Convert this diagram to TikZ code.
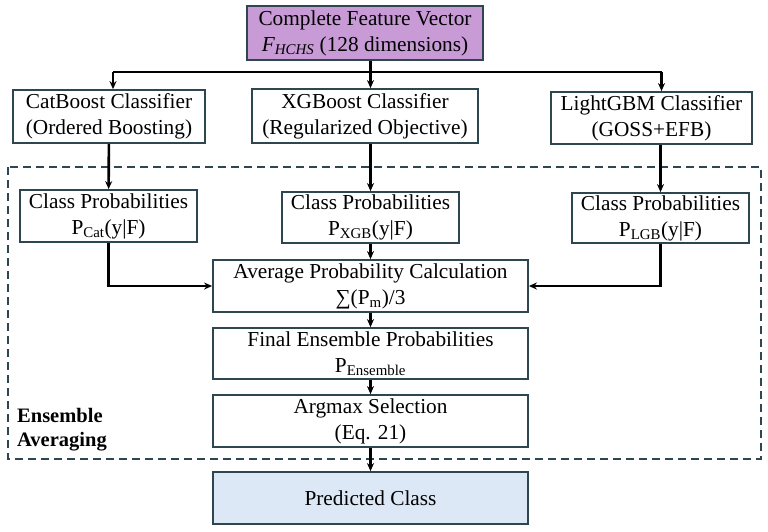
\documentclass[tikz,border=0pt]{standalone}
\usepackage{fontspec}
\setmainfont{Liberation Serif}
\usetikzlibrary{arrows.meta}
\definecolor{boxline}{RGB}{45,70,80}
\definecolor{featfill}{RGB}{200,155,215}
\definecolor{predfill}{RGB}{220,232,245}
\begin{document}
\begin{tikzpicture}[x=1pt, y=-1pt,
  box/.style={draw=boxline, line width=1.8pt, rectangle, align=center, inner sep=1pt,
    font=\fontsize{21.3}{26}\selectfont},
  flow/.style={line width=2.6pt, -{Stealth[length=8pt,width=7pt]}}]
\useasboundingbox (0,0) rectangle (768,531);

% input
\node[box, fill=featfill, minimum width=236, minimum height=54] (feat) at (365,33)
  {Complete Feature Vector\\\textit{F}\textsubscript{\textit{HCHS}} (128 dimensions)};

% classifiers
\node[box, minimum width=192, minimum height=53] (cat) at (109,116.5) {CatBoost Classifier\\(Ordered Boosting)};
\node[box, minimum width=226, minimum height=54] (xgb) at (365,116) {XGBoost Classifier\\(Regularized Objective)};
\node[box, minimum width=201, minimum height=52] (lgb) at (651.5,118) {LightGBM Classifier\\(GOSS+EFB)};

% ensemble region
\draw[dashed, dash pattern=on 8pt off 5pt, line width=1.8pt, draw=boxline] (8,167) rectangle (761,459);
\node[align=left, anchor=north west, inner sep=0pt, font=\fontsize{20.5}{24}\selectfont\bfseries] (ens) at (17,408) {Ensemble\\Averaging};

% class probabilities
\node[box, minimum width=177, minimum height=52] (pcat) at (108.5,216) {Class Probabilities\\P\textsubscript{Cat}(y|F)};
\node[box, minimum width=177, minimum height=51] (pxgb) at (370.5,217.5) {Class Probabilities\\P\textsubscript{XGB}(y|F)};
\node[box, minimum width=177, minimum height=50] (plgb) at (660.5,218) {Class Probabilities\\P\textsubscript{LGB}(y|F)};

% averaging chain
\node[box, minimum width=315, minimum height=52] (avg) at (370.5,286) {Average Probability Calculation\\∑(P\textsubscript{m})/3};
\node[box, minimum width=315, minimum height=51] (fin) at (370.5,353.5) {Final Ensemble Probabilities\\P\textsubscript{Ensemble}};
\node[box, minimum width=315, minimum height=52] (arg) at (370.5,421) {Argmax Selection\\(Eq. 21)};
\node[box, fill=predfill, minimum width=315, minimum height=52] (pred) at (370.5,498) {Predicted Class};

\coordinate (split) at (370.5,72);
\draw[line width=2.6pt] (split -| cat.north) ++(4,0) -- (split -| lgb.north) -- ++(10,0);
\draw[flow] (feat.south -| avg.north) -- (xgb.north -| avg.north);
\draw[flow] ([xshift=4pt]split -| cat.north) -- ([xshift=4pt]cat.north);
\draw[flow] ([xshift=10pt]split -| lgb.north) -- ([xshift=10pt]lgb.north);

\draw[flow] (cat) -- (pcat);
\draw[flow] (xgb.south -| pxgb.north) -- (pxgb);
\draw[flow] (lgb.south -| plgb.north) -- (plgb);

\draw[flow] (pcat) |- (avg);
\draw[flow] (plgb) |- (avg);
\draw[flow] (pxgb) -- (avg);
\draw[flow] (avg) -- (fin);
\draw[flow] (fin) -- (arg);
\draw[flow] (arg) -- (pred);
\end{tikzpicture}
\end{document}
